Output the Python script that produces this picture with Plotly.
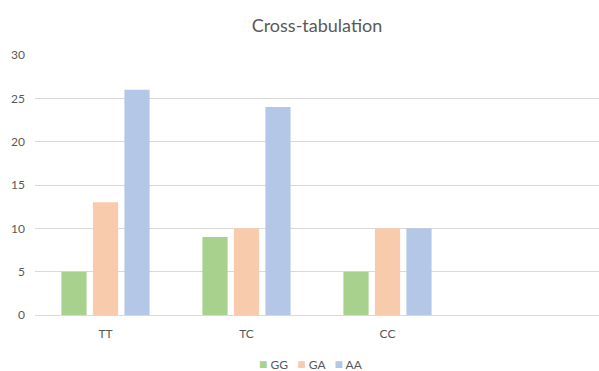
import plotly.graph_objects as go

# Genotype combinations on the x axis and counts per allele pair
categories = ["TT", "TC", "CC"]
series_names = ["GG", "GA", "AA"]
gg_counts = [5, 9, 5]
ga_counts = [13, 10, 10]
aa_counts = [26, 24, 10]
colors = ["#A9D18E", "#F8CBAD", "#B4C7E7"]

y_ticks = [0, 5, 10, 15, 20, 25, 30]

font_family = "Lato, 'Open Sans', sans-serif"
text_color = "#595959"

fig = go.Figure()
for name, values, color in zip(series_names, [gg_counts, ga_counts, aa_counts], colors):
    fig.add_trace(go.Bar(name=name, x=categories, y=values, showlegend=False,
                         marker=dict(color=color, line=dict(width=0))))

# Compact horizontal legend row below the axis
legend_text = "&nbsp;&nbsp;&nbsp;".join(
    f'<span style="color:{c};font-size:14px">■</span>&nbsp;{n}' for n, c in zip(series_names, colors)
)
fig.add_annotation(
    text=legend_text,
    xref="paper", yref="paper",
    x=0.49, y=-0.185,
    xanchor="center", yanchor="middle",
    showarrow=False,
    font=dict(family=font_family, size=12, color=text_color),
)

fig.update_layout(
    width=599,
    height=371,
    barmode="group",
    bargap=0.33,
    bargroupgap=0.2,
    plot_bgcolor="white",
    paper_bgcolor="white",
    margin=dict(l=35, r=0, t=55, b=56),
    title=dict(
        text="Cross-tabulation",
        x=(35 + 599) / 2 / 599,
        xanchor="center",
        y=0.93,
        yanchor="middle",
        font=dict(family=font_family, size=18, color=text_color),
    ),
    font=dict(family=font_family, size=12, color=text_color),
    xaxis=dict(
        type="category",
        categoryorder="array",
        categoryarray=categories,
        range=[-0.5, 3.5],
        showgrid=False,
        showline=False,
        zeroline=False,
        ticks="",
        ticklabelstandoff=10,
        tickfont=dict(size=12, color=text_color),
    ),
    yaxis=dict(
        range=[0, 30],
        tickvals=y_ticks,
        showgrid=True,
        gridcolor="#D9D9D9",
        gridwidth=1,
        zeroline=True,
        zerolinecolor="#D9D9D9",
        zerolinewidth=1,
        showline=False,
        ticks="",
        ticklabelstandoff=9,
        tickfont=dict(size=12, color=text_color),
    ),
)

fig.write_html("out.html")
